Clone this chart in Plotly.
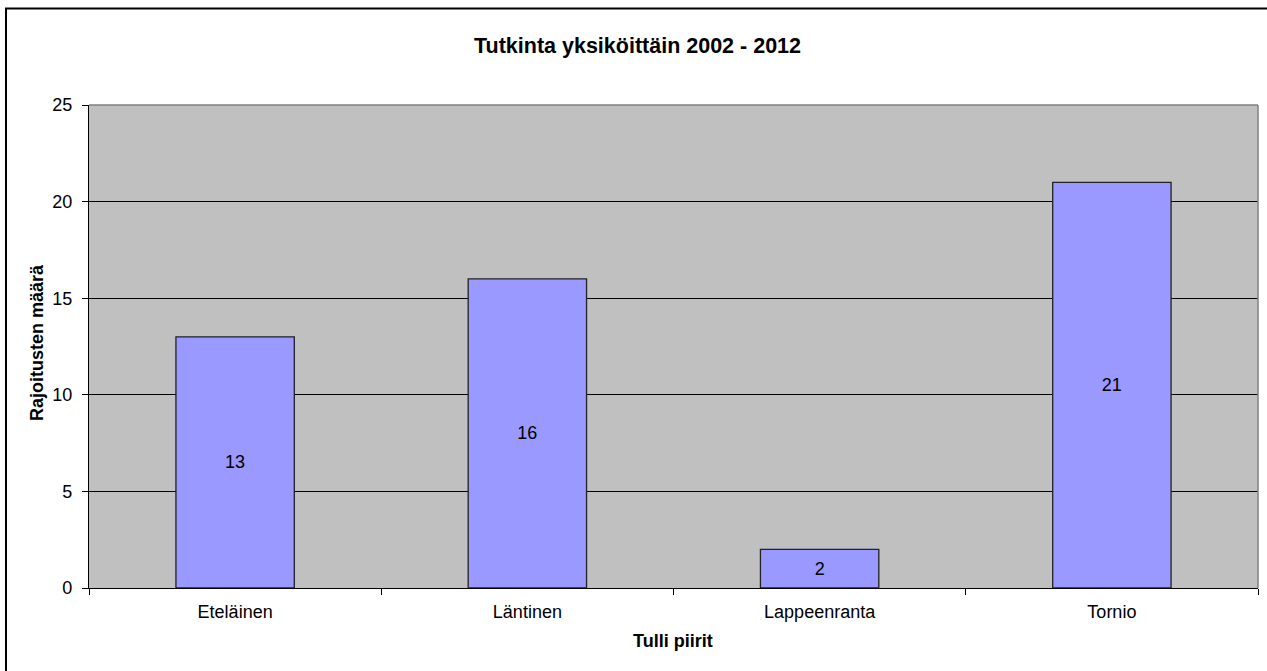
import plotly.graph_objects as go

# District data
districts = ["Eteläinen", "Läntinen", "Lappeenranta", "Tornio"]
counts = [13, 16, 2, 21]
y_ticks = [0, 5, 10, 15, 20, 25]

FONT = "Liberation Sans, Arial, sans-serif"

# plot-area geometry in pixels
L, R, T, B = 89, 1258, 105, 588
W, H = R - L, B - T


def px_x(x):
    return (x - L) / W


def px_y(y):
    return (B - y) / H


fig = go.Figure(
    go.Bar(
        x=districts,
        y=counts,
        marker=dict(color="#9999FF", line=dict(color="#222222", width=1.3)),
        text=[str(c) for c in counts],
        textposition="inside",
        insidetextanchor="middle",
        textangle=0,
        textfont=dict(family=FONT, size=18, color="#000000"),
        width=0.405,
        hoverinfo="skip",
    )
)

fig.update_layout(
    width=1267,
    height=671,
    margin=dict(l=L, r=1267 - R, t=T, b=671 - B),
    paper_bgcolor="#FFFFFF",
    plot_bgcolor="#C0C0C0",
    font=dict(family=FONT, size=18, color="#000000"),
    showlegend=False,
    xaxis=dict(
        type="category",
        tickson="boundaries",
        ticks="outside",
        ticklen=6,
        tickcolor="#000000",
        showline=True,
        linecolor="#000000",
        linewidth=1.3,
        showgrid=False,
        tickfont=dict(size=18),
        ticklabelstandoff=7,
    ),
    yaxis=dict(
        range=[0, 25],
        tickvals=y_ticks,
        ticks="outside",
        ticklen=6,
        tickcolor="#000000",
        showline=True,
        linecolor="#000000",
        linewidth=1.3,
        showgrid=True,
        gridcolor="#000000",
        gridwidth=1,
        zeroline=False,
        tickfont=dict(size=18),
        ticklabelstandoff=6,
    ),
    annotations=[
        dict(
            text="<b>Tutkinta yksiköittäin 2002 - 2012</b>",
            xref="paper", yref="paper",
            x=px_x(637), y=px_y(46),
            xanchor="center", yanchor="middle",
            showarrow=False,
            font=dict(size=21.5, family=FONT, color="#000000"),
        ),
        dict(
            text="<b>Tulli piirit</b>",
            xref="paper", yref="paper",
            x=px_x(673), y=px_y(641),
            xanchor="center", yanchor="middle",
            showarrow=False,
            font=dict(size=18, family=FONT, color="#000000"),
        ),
        dict(
            text="<b>Rajoitusten määrä</b>",
            xref="paper", yref="paper",
            x=px_x(37), y=px_y(343),
            xanchor="center", yanchor="middle",
            textangle=-90,
            showarrow=False,
            font=dict(size=18, family=FONT, color="#000000"),
        ),
    ],
    shapes=[
        # plot-area frame (top and right edges)
        dict(type="line", xref="paper", yref="paper", x0=0, x1=1, y0=1, y1=1,
             line=dict(color="#808080", width=1.5), layer="above"),
        dict(type="line", xref="paper", yref="paper", x0=1, x1=1, y0=0, y1=1,
             line=dict(color="#808080", width=1.5), layer="above"),
        # outer chart border
        dict(type="rect", xref="paper", yref="paper",
             x0=px_x(6), x1=1.2, y0=-0.3, y1=px_y(8.5),
             line=dict(color="#000000", width=2), fillcolor="rgba(0,0,0,0)",
             layer="below"),
    ],
)

fig.write_html("out.html")
